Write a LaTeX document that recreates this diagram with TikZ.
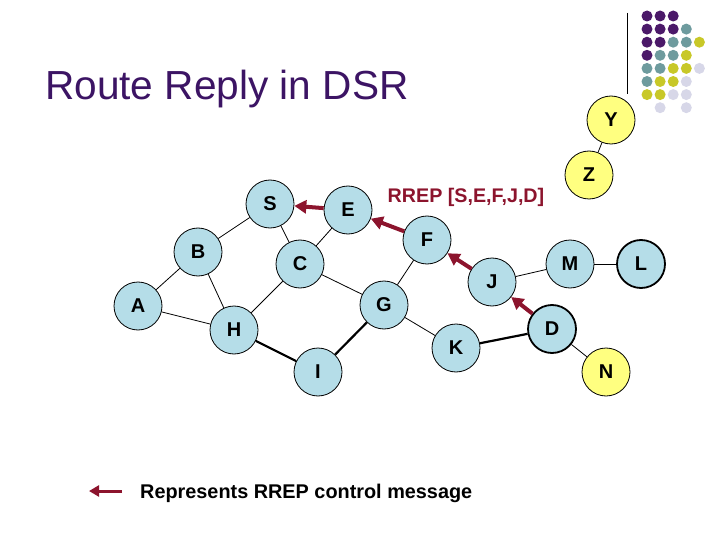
\documentclass[tikz,border=0pt]{standalone}
\usepackage{fontspec}
\setmainfont{Liberation Sans}
\usetikzlibrary{arrows.meta}
\definecolor{nodeblue}{RGB}{181,221,232}
\definecolor{nodeyellow}{RGB}{255,255,128}
\definecolor{rrep}{RGB}{140,20,45}
\definecolor{titlepurple}{RGB}{60,20,100}
\definecolor{dpurple}{RGB}{75,25,105}
\definecolor{dteal}{RGB}{110,155,158}
\definecolor{dyellow}{RGB}{200,200,40}
\definecolor{dlav}{RGB}{215,215,232}
\begin{document}
\begin{tikzpicture}[x=1pt,y=-1pt,
  net/.style={circle,draw=black,line width=0.8pt,fill=nodeblue,minimum size=48pt,inner sep=0pt,font=\fontsize{20}{24}\selectfont\bfseries},
  ynet/.style={net,fill=nodeyellow},
  thicknet/.style={net,line width=1.8pt},
  link/.style={line width=0.8pt},
  heavy/.style={line width=2.2pt},
  rr/.style={draw=rrep,line width=4pt,-{Triangle[length=12pt,width=13pt]}},
  dotc/.style={inner sep=0pt}
]
\useasboundingbox (0,0) rectangle (720,540);
% decoration
\coordinate (v1) at (627,13);
\coordinate (v2) at (627,94);
\draw[line width=0.8pt] (v1) -- (v2);
\foreach \c/\r/\col in {0/0/dpurple,1/0/dpurple,2/0/dpurple,
  0/1/dpurple,1/1/dpurple,2/1/dpurple,3/1/dteal,
  0/2/dpurple,1/2/dpurple,2/2/dteal,3/2/dteal,4/2/dyellow,
  0/3/dpurple,1/3/dteal,2/3/dteal,3/3/dyellow,
  0/4/dteal,1/4/dteal,2/4/dyellow,3/4/dyellow,4/4/dlav,
  0/5/dteal,1/5/dyellow,2/5/dyellow,3/5/dlav,
  0/6/dyellow,1/6/dyellow,2/6/dlav,3/6/dlav,
  1/7/dlav,3/7/dlav}
  \fill[\col] (647+13.1*\c,16+13.1*\r) circle (5.5);
% title
\node[anchor=base west,inner sep=0pt,text=titlepurple,font=\fontsize{40.6}{48}\selectfont] (title) at (45,100) {Route Reply in DSR};
% nodes
\node[net] (S) at (270,204) {S};
\node[net] (E) at (348,210) {E};
\node[net] (B) at (198,252) {B};
\node[net] (C) at (300,264) {C};
\node[net] (F) at (427,240) {F};
\node[net] (J) at (492,282) {J};
\node[net] (M) at (570,264) {M};
\node[thicknet] (L) at (641,264) {L};
\node[net] (A) at (138,306) {A};
\node[net] (G) at (384,305) {G};
\node[net] (H) at (234,330) {H};
\node[net] (I) at (318,372) {I};
\node[net] (K) at (456,348) {K};
\node[thicknet] (D) at (552,329) {D};
\node[ynet] (N) at (606,372) {N};
\node[ynet] (Y) at (611,120) {Y};
\node[ynet] (Z) at (589,175) {Z};
% links
\draw[link] (S) -- (B);
\draw[link] (S) -- (C);
\draw[link] (E) -- (C);
\draw[link] (B) -- (A);
\draw[link] (B) -- (H);
\draw[link] (C) -- (H);
\draw[link] (C) -- (G);
\draw[link] (A) -- (H);
\draw[link] (F) -- (G);
\draw[link] (G) -- (K);
\draw[link] (J) -- (M);
\draw[link] (M) -- (L);
\draw[link] (D) -- (N);
\draw[link] (Y) -- (Z);
\draw[heavy] (H) -- (I);
\draw[heavy] (I) -- (G);
\draw[heavy] (K) -- (D);
% RREP arrows
\draw[rr] (E) -- (S);
\draw[rr] (F) -- (E);
\draw[rr] (J) -- (F);
\draw[rr] (D) -- (J);
\node[text=rrep,font=\fontsize{19.7}{24}\selectfont\bfseries] (lab) at (466,197) {RREP [S,E,F,J,D]};
% legend
\coordinate (l1) at (122,491);
\coordinate (l2) at (89,491);
\draw[draw=rrep,line width=3pt,-{Triangle[length=10pt,width=11pt]}] (l1) -- (l2);
\node[anchor=base west,inner sep=0pt,font=\fontsize{19.85}{24}\selectfont\bfseries] (leg) at (140,498) {Represents RREP control message};
\end{tikzpicture}
\end{document}
